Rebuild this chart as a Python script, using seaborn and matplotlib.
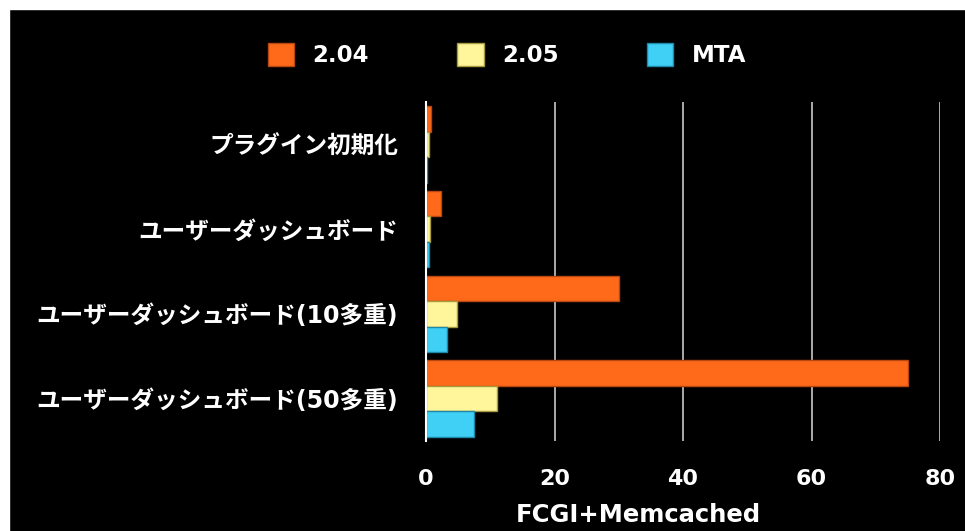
import matplotlib
matplotlib.use("Agg")
import matplotlib.pyplot as plt
from matplotlib.patches import Rectangle
import seaborn as sns
import pandas as pd

categories = ["プラグイン初期化", "ユーザーダッシュボード", "ユーザーダッシュボード(10多重)", "ユーザーダッシュボード(50多重)"]
series = ["2.04", "2.05", "MTA"]
v_204 = [0.8, 2.3, 30.0, 75.0]
v_205 = [0.4, 0.7, 4.8, 11.0]
v_mta = [0.2, 0.45, 3.3, 7.5]
x_ticks = [0, 20, 40, 60, 80]
x_label = "FCGI+Memcached"

colors = ["#FF6A1A", "#FFF59A", "#40D0F5"]
edges = ["#B84810", "#A89A40", "#1E88A8"]

sns.set_theme(style="dark")
plt.rcParams['font.family'] = ['DejaVu Sans', 'Noto Sans CJK JP']
plt.rcParams['font.weight'] = 'bold'

rows = []
for s, vals in zip(series, [v_204, v_205, v_mta]):
    for c, v in zip(categories, vals):
        rows.append({"cat": c, "series": s, "value": v})
df = pd.DataFrame(rows)

fig = plt.figure(figsize=(9.65, 5.31), dpi=100)
fig.patch.set_facecolor("black")
fig.patches.append(Rectangle((0, 0), 9 / 965, 1, transform=fig.transFigure, color="white", zorder=0))
fig.patches.append(Rectangle((0, 1 - 9 / 531), 1, 9 / 531, transform=fig.transFigure, color="white", zorder=0))

ax = fig.add_axes([426 / 965, 1 - 441 / 531, (940 - 426) / 965, (441 - 102) / 531])
ax.set_facecolor("black")

sns.barplot(data=df, y="cat", x="value", hue="series", hue_order=series, order=categories,
            palette=colors, orient="h", width=0.9, ax=ax, errorbar=None, saturation=1,
            linewidth=1)
for cont, ec in zip(ax.containers, edges):
    for bar in cont:
        bar.set_edgecolor(ec)

ax.set_xlim(0, 80)
ax.set_ylim(3.5, -0.5)
ax.set_xticks(x_ticks)
ax.set_xticklabels([str(t) for t in x_ticks])
ax.grid(False)
for t in x_ticks[1:]:
    ax.axvline(t, color="#C8C8C8", linewidth=1.2, zorder=0)
for sp in ["top", "right", "bottom"]:
    ax.spines[sp].set_visible(False)
ax.spines["left"].set_visible(True)
ax.spines["left"].set_color("white")
ax.spines["left"].set_linewidth(1.5)
ax.spines["left"].set_zorder(5)

ax.tick_params(axis="x", length=0, pad=20, labelsize=16, labelcolor="white")
ax.tick_params(axis="y", length=0, pad=20, labelsize=17, labelcolor="white")
for lab in ax.get_xticklabels() + ax.get_yticklabels():
    lab.set_fontweight("bold")
ax.set_ylabel("")
ax.set_xlabel(x_label, color="white", fontsize=17.5, fontweight="bold", va="center", ha="center")
ax.xaxis.set_label_coords((638 - 426) / 514, (441 - 515) / 339)

ax.legend_.remove()
handles = [Rectangle((0, 0), 1, 1, facecolor=c, edgecolor=e, linewidth=1) for c, e in zip(colors, edges)]
leg = fig.legend(handles, series, loc="center", bbox_to_anchor=(507 / 965, 1 - 55 / 531), ncol=3,
                 frameon=False, handlelength=1.15, handleheight=1.15,
                 handletextpad=0.8, columnspacing=3.85, prop={"weight": "bold", "size": 16.5})
for t in leg.get_texts():
    t.set_color("white")

fig.savefig("out.png", dpi=100, facecolor=fig.get_facecolor())
